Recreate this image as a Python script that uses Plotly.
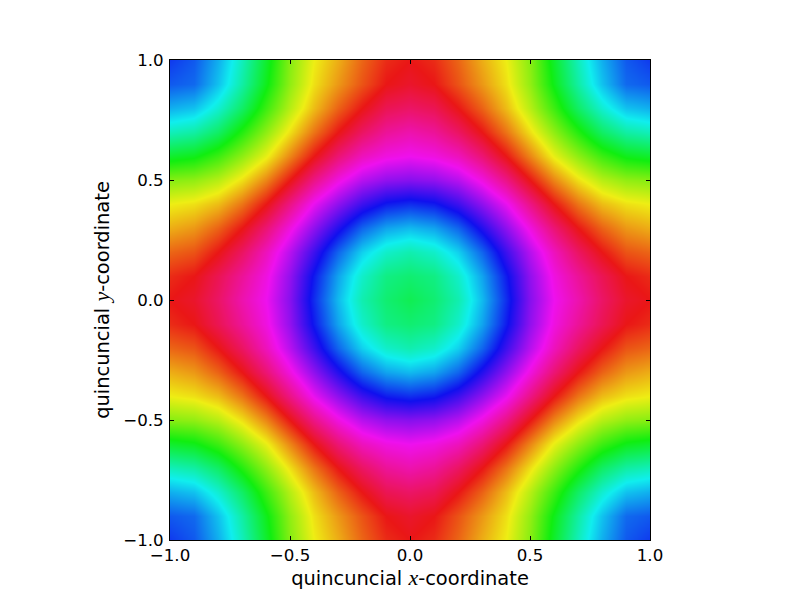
import plotly.graph_objects as go
import numpy as np

# hue read off the picture along x = 0, 0.1, ... 1 for y = 0, 0.1, ... 1
# (upper right quarter, the other three are mirror images)
grid = [0.0, 0.1, 0.2, 0.3, 0.4, 0.5, 0.6, 0.7, 0.8, 0.9, 1.0]
quarter = [
    [138, 146, 163, 194, 232, 272, 300, 318, 338, 354, 360],
    [146, 151, 170, 200, 237, 275, 304, 324, 343, 360, 366],
    [163, 170, 188, 217, 252, 285, 314, 339, 360, 377, 382],
    [194, 200, 217, 245, 274, 304, 334, 360, 381, 396, 402],
    [232, 237, 252, 274, 298, 329, 360, 386, 406, 416, 420],
    [272, 275, 285, 304, 329, 360, 391, 416, 435, 445, 448],
    [300, 304, 314, 334, 360, 391, 422, 446, 468, 483, 488],
    [318, 324, 339, 360, 386, 416, 446, 475, 503, 520, 526],
    [338, 343, 360, 381, 406, 435, 468, 503, 532, 554, 560],
    [354, 360, 377, 396, 416, 445, 483, 520, 554, 582, 587],
    [360, 366, 382, 402, 420, 448, 488, 526, 560, 587, 597],
]
tick_values = [-1.0, -0.5, 0.0, 0.5, 1.0]
tick_labels = ["−1.0", "−0.5", "0.0", "0.5", "1.0"]

# green, cyan, blue, magenta, red, yellow, green, cyan, blue
colors = ["#10ee10", "#10eeee", "#1010ee", "#ee10ee", "#ea1616",
          "#eeee14", "#10ee10", "#10eeee", "#1030ee"]
scale = [[i / (len(colors) - 1), c] for i, c in enumerate(colors)]

q = np.array(quarter)
top = np.hstack([q[:, :0:-1], q])
z = np.vstack([top[:0:-1], top])
axis_pts = [-g for g in grid[:0:-1]] + grid

fig = go.Figure(go.Heatmap(x=axis_pts, y=axis_pts, z=z, zmin=120, zmax=600,
                           colorscale=scale, zsmooth="best", showscale=False,
                           hoverinfo="skip"))

math = '<span style="font-family:Liberation Serif;font-style:italic;font-size:22px">%s</span>'

axis_style = dict(range=[-1, 1], autorange=False, tickmode="array",
                  tickvals=tick_values, ticktext=tick_labels,
                  ticks="inside", ticklen=4, tickwidth=1, tickcolor="black",
                  showline=True, linecolor="black", linewidth=1, mirror="allticks",
                  showgrid=False, zeroline=False,
                  tickfont=dict(size=16.67, color="black"))

fig.update_xaxes(title=dict(text="quincuncial " + math % "x" + "-coordinate",
                            font=dict(size=19.44, color="black"), standoff=6),
                 **axis_style)
fig.update_yaxes(title=dict(text="quincuncial " + math % "y" + "-coordinate",
                            font=dict(size=19.44, color="black"), standoff=8),
                 ticklabelstandoff=2, **axis_style)

# the page adds 8px round the figure, so the margins are moved by that much
fig.update_layout(width=800, height=600, autosize=False,
                  margin=dict(l=162, r=158, t=52, b=68, pad=0),
                  paper_bgcolor="white", plot_bgcolor="white",
                  font_family="DejaVu Sans")

fig.write_html("out.html")
